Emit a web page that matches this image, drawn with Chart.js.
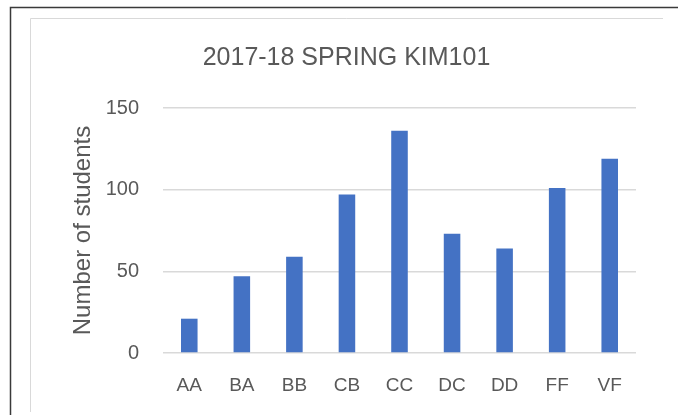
<!DOCTYPE html>
<html>
<head>
<meta charset="utf-8">
<script src="https://cdn.jsdelivr.net/npm/chart.js@4"></script>
<style>
  html, body { margin: 0; padding: 0; background: #fff; }
  #wrap { width: 678px; height: 415px; }
</style>
</head>
<body>
<div id="wrap"><canvas id="gradeChart" width="678" height="415"></canvas></div>
<script>
// grades and how many students got each
var grades = ["AA", "BA", "BB", "CB", "CC", "DC", "DD", "FF", "VF"];
var students = [21, 47, 59, 97, 136, 73, 64, 101, 119];
var yTicks = [0, 50, 100, 150];

var textGray = "#595959";
var font = "'Liberation Sans', Arial, sans-serif";

// frame lines like the Excel chart box (cropped screenshot)
var framePlugin = {
    id: "frame",
    beforeDraw: function (chart) {
        var c = chart.ctx;
        c.save();
        c.fillStyle = "#fff";
        c.fillRect(0, 0, chart.width, chart.height);
        // outer dark border, top and left only visible
        c.strokeStyle = "#3a3a3a";
        c.lineWidth = 1.5;
        c.beginPath();
        c.moveTo(10.5, 415);
        c.lineTo(10.5, 7.5);
        c.lineTo(678, 7.5);
        c.stroke();
        // inner light border
        c.strokeStyle = "#d9d9d9";
        c.lineWidth = 1;
        c.beginPath();
        c.moveTo(30.5, 412);
        c.lineTo(30.5, 18.5);
        c.lineTo(663, 18.5);
        c.stroke();
        c.restore();
    }
};

var ctx = document.getElementById("gradeChart");
var gradeChart = new Chart(ctx, {
    type: "bar",
    data: {
        labels: grades,
        datasets: [{
            label: "Number of students",
            data: students,
            backgroundColor: "#4472C4",
            borderWidth: 0,
            barPercentage: 0.315,
            categoryPercentage: 1.0
        }]
    },
    options: {
        responsive: false,
        animation: false,
        layout: {
            padding: { left: 30, right: 15, top: 18, bottom: 0 }
        },
        plugins: {
            legend: { display: false },
            tooltip: { enabled: false },
            title: {
                display: true,
                text: "2017-18 SPRING KIM101",
                color: textGray,
                font: { family: font, size: 25, weight: "normal", lineHeight: 1.2 },
                padding: { top: 25, bottom: 35 }
            }
        },
        scales: {
            x: {
                grid: { display: false, drawTicks: false },
                border: { display: false },
                ticks: {
                    color: textGray,
                    font: { family: font, size: 19 },
                    padding: 21,
                    maxRotation: 0
                },
                afterFit: function (scale) { scale.height = 62; }
            },
            y: {
                min: 0,
                max: yTicks[yTicks.length - 1],
                afterBuildTicks: function (scale) {
                    scale.ticks = yTicks.map(function (v) { return { value: v }; });
                },
                grid: { color: "#d9d9d9", lineWidth: 1.5, drawTicks: false },
                border: { display: false },
                ticks: {
                    color: textGray,
                    font: { family: font, size: 20 },
                    padding: 24
                },
                title: {
                    display: true,
                    text: "Number of students",
                    color: textGray,
                    font: { family: font, size: 24, lineHeight: 1.2 },
                    padding: { top: 39, bottom: 0 }
                },
                afterFit: function (scale) { scale.width = 133; }
            },
            // empty right axis only to keep the plot narrower than the title box
            yRight: {
                position: "right",
                display: true,
                grid: { display: false, drawTicks: false },
                border: { display: false },
                ticks: { display: false },
                afterFit: function (scale) { scale.width = 27; }
            }
        }
    },
    plugins: [framePlugin]
});
</script>
</body>
</html>
